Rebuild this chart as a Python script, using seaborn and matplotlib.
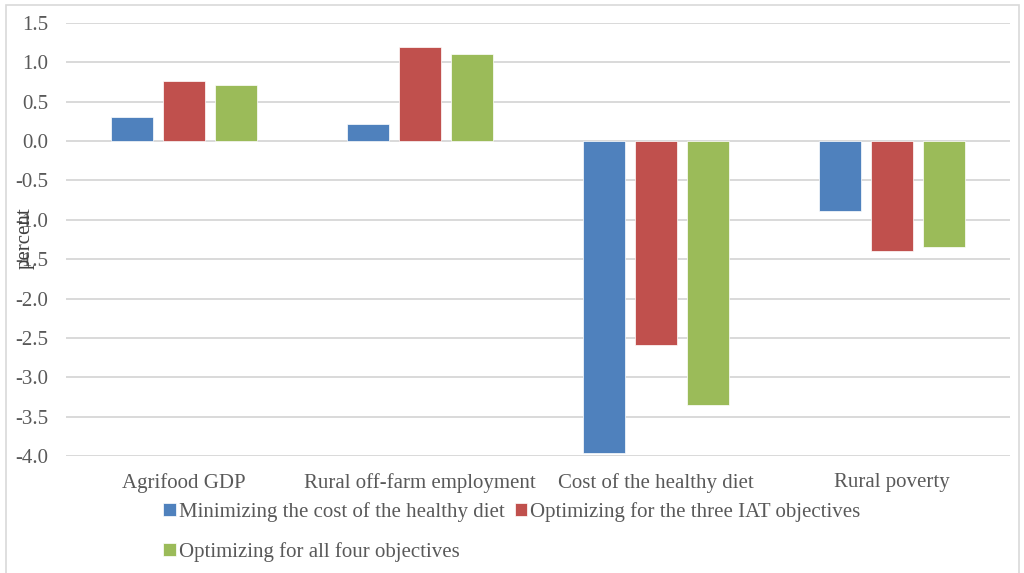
import matplotlib
matplotlib.use("Agg")
import matplotlib.pyplot as plt
from matplotlib.patches import Rectangle
import seaborn as sns
import pandas as pd

categories = ["Agrifood GDP", "Rural off-farm employment",
              "Cost of the healthy diet", "Rural poverty"]
scenarios = ["Minimizing the cost of the healthy diet",
             "Optimizing for the three IAT objectives",
             "Optimizing for all four objectives"]
min_cost = [0.30, 0.22, -3.96, -0.89]
three_iat = [0.76, 1.19, -2.59, -1.40]
all_four = [0.71, 1.10, -3.35, -1.35]
colors = ["#4F81BD", "#C0504D", "#9BBB59"]
y_ticks = [1.5, 1.0, 0.5, 0.0, -0.5, -1.0, -1.5, -2.0, -2.5, -3.0, -3.5, -4.0]

rows = []
for name, vals in zip(scenarios, [min_cost, three_iat, all_four]):
    for cat, v in zip(categories, vals):
        rows.append({"category": cat, "scenario": name, "value": v})
df = pd.DataFrame(rows)

sns.set_theme(style="white")
plt.rcParams["font.family"] = ["Liberation Serif", "DejaVu Serif"]

fig = plt.figure(figsize=(10.24, 5.73), dpi=100)
ax = fig.add_axes([66 / 1024, 1 - 456 / 573, 944 / 1024, 433 / 573])

sns.barplot(data=df, x="category", y="value", hue="scenario",
            hue_order=scenarios, palette=colors, order=categories,
            saturation=1, width=0.66, gap=0.19, ax=ax, errorbar=None,
            edgecolor="#FFFFFF", linewidth=0.5, zorder=3)

ax.set_ylim(-4.0, 1.5)
ax.set_yticks(y_ticks)
ax.set_yticklabels([f"{t:.1f}" for t in y_ticks])
ax.set_xlim(-0.5, 3.5)
ax.yaxis.grid(True, color="#D9D9D9", linewidth=1.4, zorder=0)
ax.set_axisbelow(True)
for s in ax.spines.values():
    s.set_visible(False)
ax.tick_params(axis="both", length=0, labelsize=15, colors="#595959")
ax.tick_params(axis="y", pad=13)
ax.tick_params(axis="x", pad=12)
ax.set_xlabel("")
ax.set_ylabel("")
fig.text(25 / 1024, 1 - 238 / 573, "percent", rotation=90, ha="center",
         va="center", fontsize=15, color="#404040")

handles, labels = ax.get_legend_handles_labels()
ax.get_legend().remove()
order = [0, 2, 1]
leg = fig.legend([handles[i] for i in order], [labels[i] for i in order],
                 loc="upper left", bbox_to_anchor=(163 / 1024, 1 - 502 / 573),
                 ncol=2, frameon=False, fontsize=15, handlelength=0.6,
                 handleheight=0.6, handletextpad=0.15, columnspacing=0.5,
                 labelspacing=0.95, borderaxespad=0, borderpad=0)
for t in leg.get_texts():
    t.set_color("#595959")

fig.patches.append(Rectangle((6 / 1024, -0.01), 1013 / 1024, 1 - 5 / 573 + 0.01,
                             transform=fig.transFigure, fill=False,
                             edgecolor="#D9D9D9", linewidth=1.2))

fig.savefig("out.png", dpi=100)
